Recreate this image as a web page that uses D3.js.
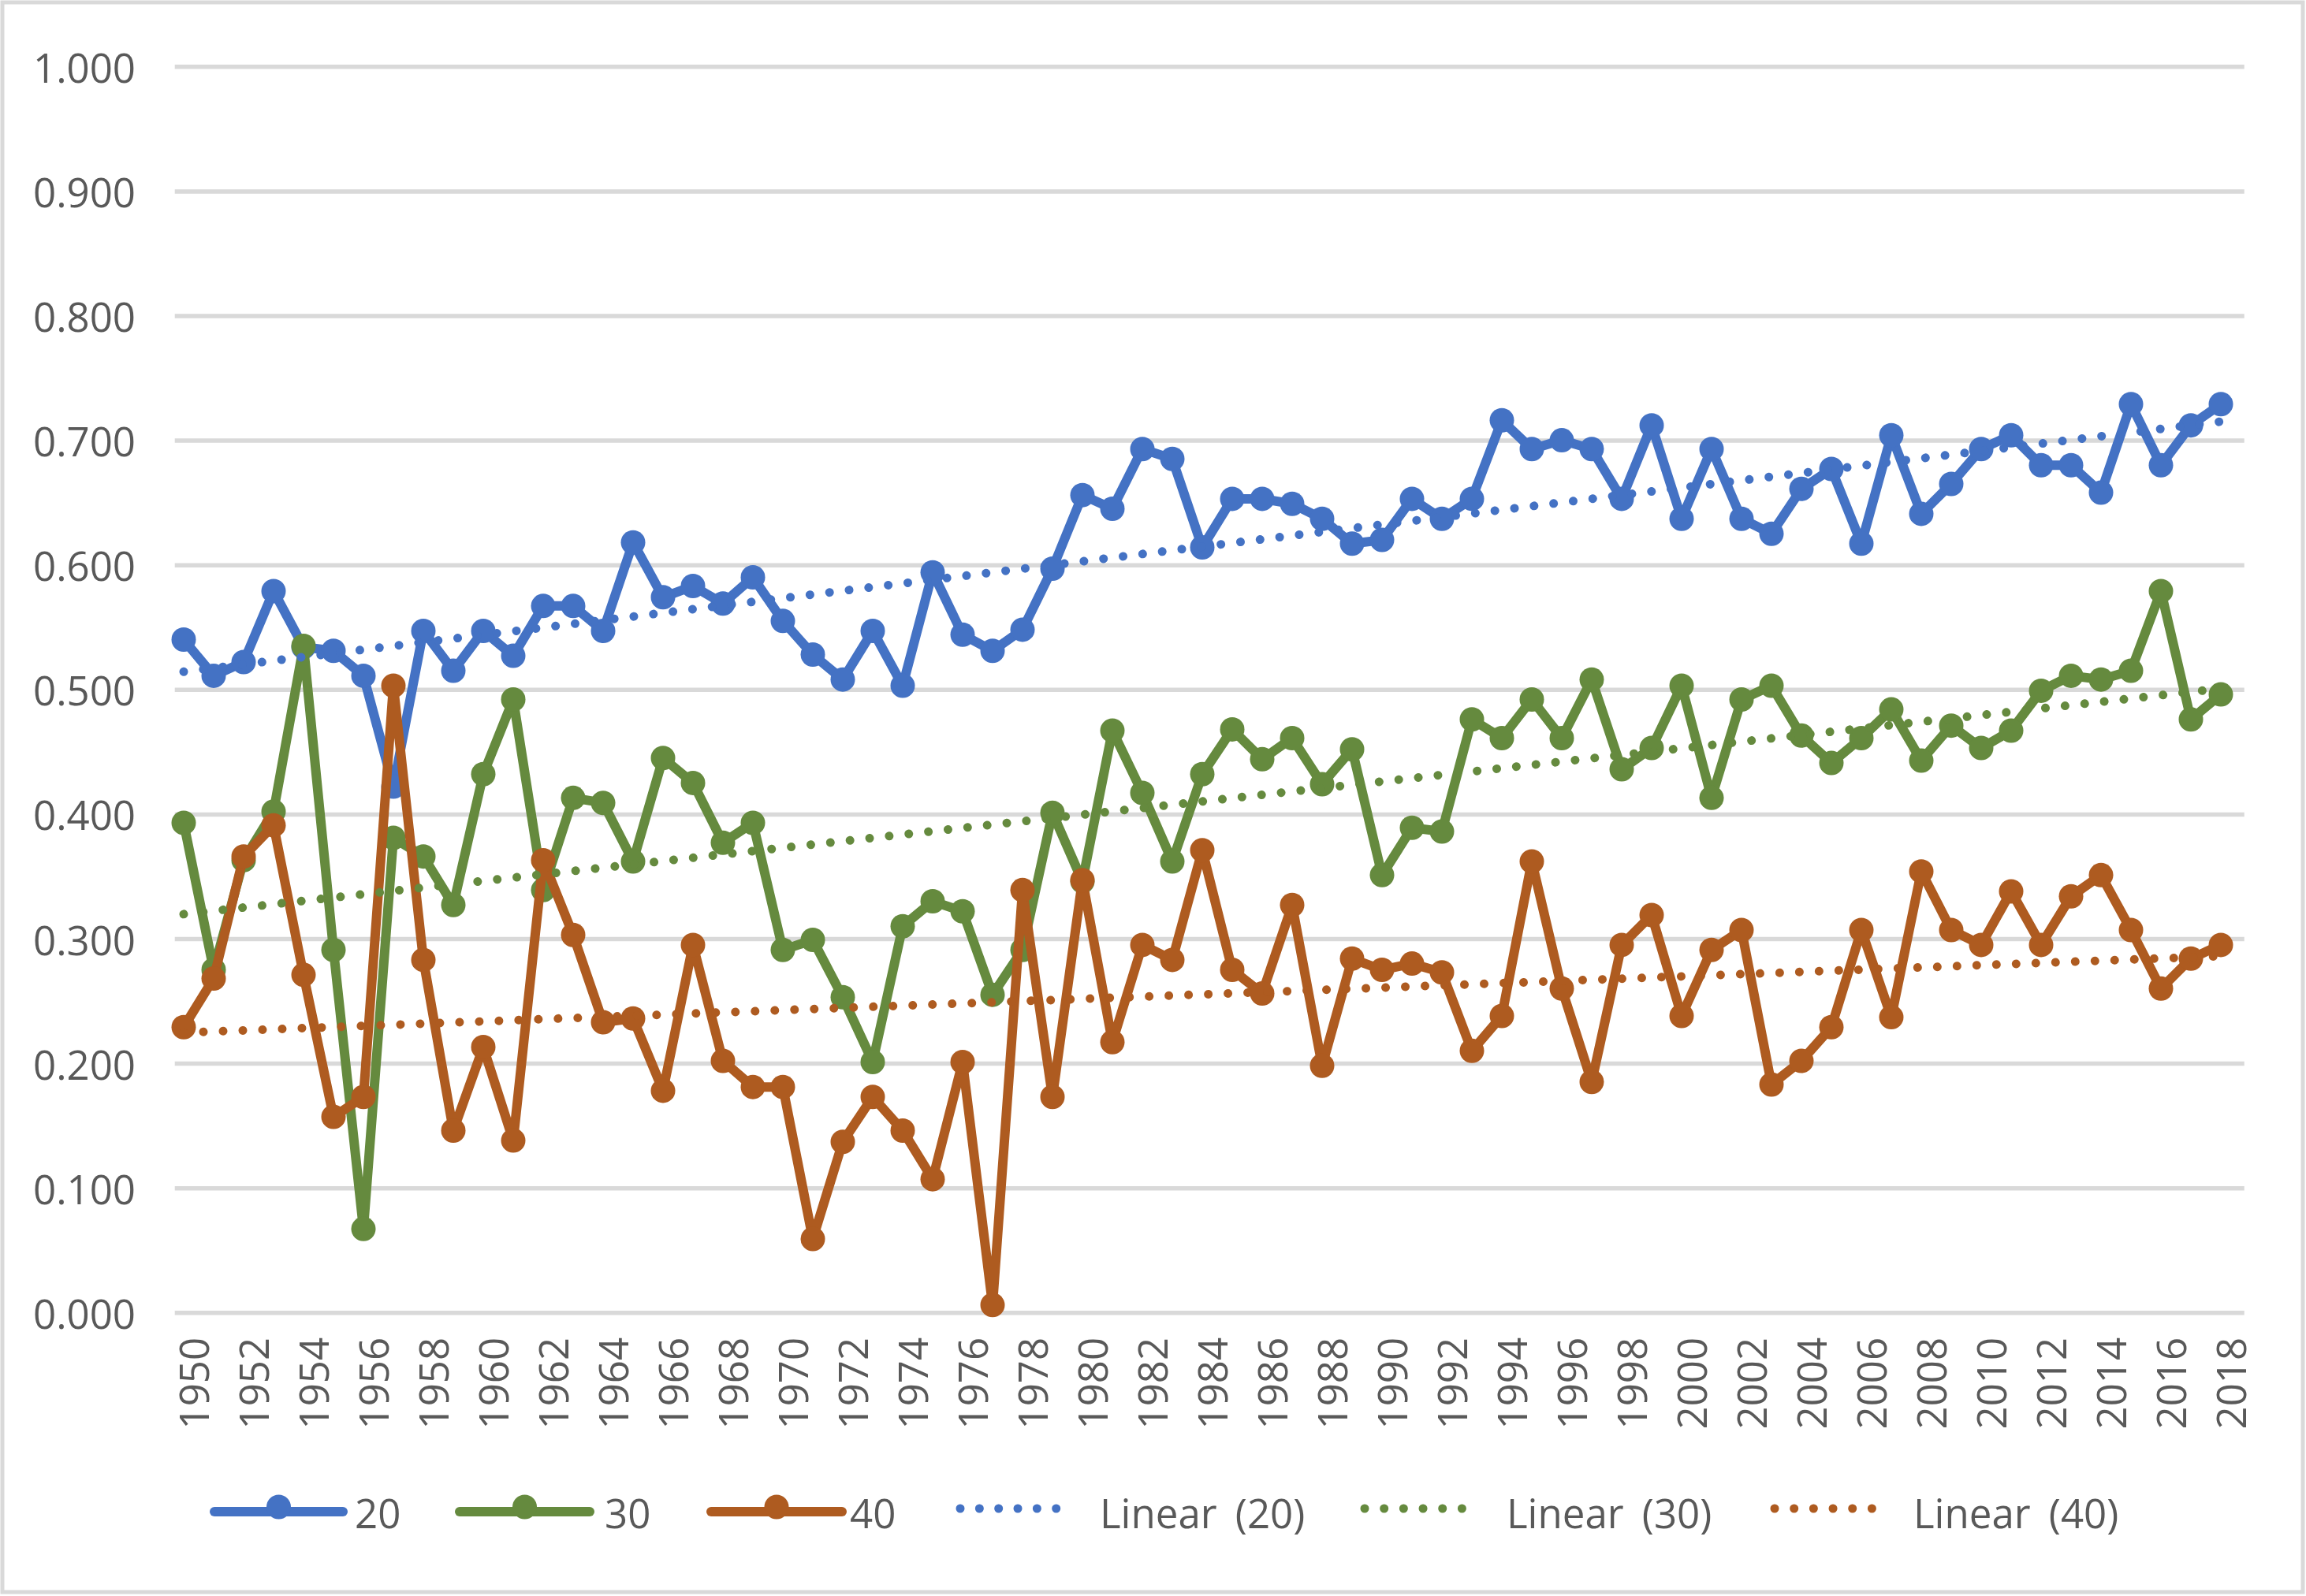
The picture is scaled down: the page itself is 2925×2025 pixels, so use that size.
<!DOCTYPE html>
<html>
<head>
<meta charset="utf-8">
<script src="https://cdn.jsdelivr.net/npm/d3@7/dist/d3.min.js"></script>
<style>
  html, body { margin: 0; padding: 0; background: #ffffff; }
  svg { display: block; }
  text { font-family: "Open Sans", "DejaVu Sans", sans-serif; fill: #595959; }
</style>
</head>
<body>
<svg id="chart" width="2925" height="2025"></svg>
<script>
// ---------- data ----------
const years = [1950,1951,1952,1953,1954,1955,1956,1957,1958,1959,1960,1961,1962,1963,1964,1965,1966,1967,1968,1969,
  1970,1971,1972,1973,1974,1975,1976,1977,1978,1979,1980,1981,1982,1983,1984,1985,1986,1987,1988,1989,
  1990,1991,1992,1993,1994,1995,1996,1997,1998,1999,2000,2001,2002,2003,2004,2005,2006,2007,2008,2009,
  2010,2011,2012,2013,2014,2015,2016,2017,2018];

const series20 = [0.540,0.511,0.522,0.579,0.534,0.531,0.511,0.422,0.547,0.515,0.547,0.527,0.567,0.567,0.547,0.618,0.574,0.583,0.569,0.590,
  0.555,0.528,0.508,0.547,0.503,0.594,0.544,0.531,0.548,0.597,0.656,0.645,0.693,0.685,0.614,0.653,0.653,0.649,0.637,0.617,
  0.620,0.653,0.637,0.653,0.716,0.693,0.700,0.693,0.653,0.712,0.637,0.693,0.637,0.625,0.661,0.677,0.617,0.704,0.641,0.665,
  0.693,0.704,0.680,0.680,0.658,0.729,0.680,0.712,0.729];

const series30 = [0.393,0.275,0.363,0.402,0.535,0.291,0.067,0.381,0.366,0.327,0.432,0.492,0.339,0.413,0.409,0.362,0.445,0.425,0.377,0.393,
  0.291,0.299,0.253,0.201,0.310,0.330,0.322,0.255,0.291,0.401,0.346,0.467,0.417,0.362,0.432,0.468,0.444,0.461,0.424,0.452,
  0.351,0.389,0.386,0.476,0.461,0.492,0.461,0.508,0.436,0.453,0.503,0.413,0.492,0.503,0.463,0.441,0.461,0.484,0.443,0.471,
  0.453,0.467,0.499,0.511,0.508,0.515,0.579,0.476,0.496];

const series40 = [0.229,0.268,0.366,0.391,0.271,0.157,0.173,0.503,0.283,0.146,0.213,0.138,0.363,0.303,0.233,0.236,0.178,0.295,0.202,0.181,
  0.181,0.059,0.137,0.173,0.146,0.107,0.201,0.006,0.339,0.173,0.347,0.217,0.295,0.283,0.371,0.275,0.256,0.327,0.198,0.284,
  0.275,0.280,0.273,0.210,0.238,0.362,0.260,0.185,0.295,0.319,0.238,0.291,0.307,0.183,0.202,0.229,0.307,0.237,0.354,0.307,
  0.295,0.338,0.295,0.334,0.351,0.307,0.260,0.284,0.295];

const seriesNames = ["20", "30", "40"];
const trendNames = ["Linear (20)", "Linear (30)", "Linear (40)"];
const yTickValues = [0, 0.1, 0.2, 0.3, 0.4, 0.5, 0.6, 0.7, 0.8, 0.9, 1.0];
const yTickLabels = ["0.000","0.100","0.200","0.300","0.400","0.500","0.600","0.700","0.800","0.900","1.000"];
const xTickLabels = [1950,1952,1954,1956,1958,1960,1962,1964,1966,1968,1970,1972,1974,1976,1978,1980,1982,1984,1986,1988,
  1990,1992,1994,1996,1998,2000,2002,2004,2006,2008,2010,2012,2014,2016,2018];

// ---------- layout / style ----------
const colors = ["#4472C4", "#658A3E", "#AE5B20"];
const plot = { left: 221.7, right: 2846.7, top: 84.3, bottom: 1665.3 };
const firstX = 233, lastX = 2817;
const fontSize = 51;

const svg = d3.select("#chart");
svg.append("rect").attr("x", 0).attr("y", 0).attr("width", 2925).attr("height", 2025).attr("fill", "#ffffff");
svg.append("rect").attr("x", 3).attr("y", 3).attr("width", 2918).attr("height", 2017)
  .attr("fill", "none").attr("stroke", "#d9d9d9").attr("stroke-width", 5);

const x = d3.scalePoint().domain(years).range([firstX, lastX]);
const y = d3.scaleLinear().domain([0, 1]).range([plot.bottom, plot.top]);

// y axis + gridlines
const yAxis = d3.axisLeft(y)
  .tickValues(yTickValues)
  .tickFormat((d, i) => yTickLabels[i])
  .tickSizeInner(-(plot.right - plot.left))
  .tickSizeOuter(0)
  .tickPadding(plot.left - 172);
const gy = svg.append("g").attr("transform", `translate(${plot.left},0)`).call(yAxis);
gy.select(".domain").remove();
gy.selectAll(".tick line").attr("stroke", "#d9d9d9").attr("stroke-width", 5.5);
gy.selectAll(".tick text")
  .attr("font-size", fontSize).attr("fill", "#595959")
  .attr("font-family", "'Open Sans', sans-serif")
  .attr("dy", null).attr("dominant-baseline", "alphabetic")
  .attr("y", 20);

// x axis labels
const xAxis = d3.axisBottom(x).tickValues(xTickLabels).tickSize(0).tickFormat(d => String(d));
const gx = svg.append("g").attr("transform", `translate(0,${plot.bottom})`).call(xAxis);
gx.select(".domain").remove();
gx.selectAll(".tick text")
  .attr("font-size", fontSize).attr("fill", "#595959")
  .attr("font-family", "'Open Sans', sans-serif")
  .attr("transform", "rotate(-90)")
  .attr("text-anchor", "end")
  .attr("dy", null)
  .attr("x", -31.5)
  .attr("y", 31.3);

// series
const allSeries = [series20, series30, series40];
const line = d3.line().x((d, i) => x(years[i])).y(d => y(d));

allSeries.forEach((vals, si) => {
  const g = svg.append("g");
  g.append("path").datum(vals)
    .attr("d", line)
    .attr("fill", "none").attr("stroke", colors[si])
    .attr("stroke-width", 12).attr("stroke-linejoin", "round").attr("stroke-linecap", "round");
  g.selectAll("circle").data(vals).enter().append("circle")
    .attr("cx", (d, i) => x(years[i])).attr("cy", d => y(d))
    .attr("r", 15.5).attr("fill", colors[si]);
});

// linear trendlines (least squares on the series values)
function fit(vals) {
  const mx = d3.mean(years), my = d3.mean(vals);
  let sxy = 0, sxx = 0;
  years.forEach((yr, i) => { sxy += (yr - mx) * (vals[i] - my); sxx += (yr - mx) * (yr - mx); });
  const b = sxy / sxx, a = my - b * mx;
  return yr => a + b * yr;
}
allSeries.forEach((vals, si) => {
  const f = fit(vals);
  const y0 = years[0], y1 = years[years.length - 1];
  svg.append("line")
    .attr("x1", x(y0)).attr("y1", y(f(y0)))
    .attr("x2", x(y1)).attr("y2", y(f(y1)))
    .attr("stroke", colors[si]).attr("stroke-width", 11)
    .attr("stroke-linecap", "round").attr("stroke-dasharray", "0.01 25");
});

// legend
const legendY = 1918;
const legendItems = [
  { type: "series", idx: 0, x1: 272, x2: 435, tx: 450 },
  { type: "series", idx: 1, x1: 583, x2: 748, tx: 767 },
  { type: "series", idx: 2, x1: 902, x2: 1068, tx: 1078 },
  { type: "trend", idx: 0, x1: 1218, x2: 1364, tx: 1395 },
  { type: "trend", idx: 1, x1: 1731, x2: 1879, tx: 1911 },
  { type: "trend", idx: 2, x1: 2251, x2: 2399, tx: 2427 }
];
const lg = svg.append("g");
legendItems.forEach(it => {
  const c = colors[it.idx];
  if (it.type === "series") {
    lg.append("line").attr("x1", it.x1).attr("x2", it.x2).attr("y1", legendY).attr("y2", legendY)
      .attr("stroke", c).attr("stroke-width", 12).attr("stroke-linecap", "round");
    lg.append("circle").attr("cx", (it.x1 + it.x2) / 2).attr("cy", legendY - 6).attr("r", 15.5).attr("fill", c);
    lg.append("text").attr("x", it.tx).attr("y", 1939).attr("font-size", fontSize).text(seriesNames[it.idx]);
  } else {
    lg.append("line").attr("x1", it.x1).attr("x2", it.x2).attr("y1", legendY - 4).attr("y2", legendY - 4)
      .attr("stroke", c).attr("stroke-width", 11).attr("stroke-linecap", "round")
      .attr("stroke-dasharray", "0.01 " + ((it.x2 - it.x1) / 6).toFixed(2));
    lg.append("text").attr("x", it.tx).attr("y", 1939).attr("font-size", fontSize)
      .attr("word-spacing", 10).text(trendNames[it.idx]);
  }
});
</script>
</body>
</html>
